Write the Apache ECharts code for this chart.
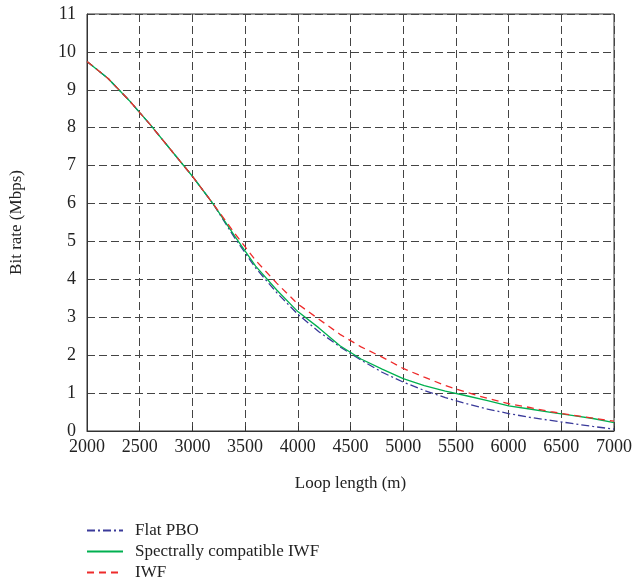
<!DOCTYPE html>
<html>
<head>
<meta charset="utf-8">
<script src="https://cdn.jsdelivr.net/npm/echarts@6/dist/echarts.min.js"></script>
<style>html,body{margin:0;padding:0;background:#fff}#c{width:635px;height:586px}</style>
</head>
<body>
<div id="c"></div>
<script>
var loopLength = [2000,2200,2400,2600,2800,3000,3200,3400,3600,3800,4000,4200,4400,4600,4800,5000,5200,5400,5600,5800,6000,6200,6400,6600,6800,7000];
var flatPBO = [9.75,9.30,8.72,8.08,7.40,6.72,5.98,5.10,4.30,3.65,3.08,2.62,2.22,1.87,1.55,1.29,1.07,0.88,0.72,0.58,0.46,0.36,0.28,0.20,0.12,0.05];
var scIWF   = [9.75,9.30,8.72,8.08,7.40,6.72,5.98,5.15,4.35,3.72,3.15,2.72,2.25,1.90,1.63,1.38,1.20,1.05,0.93,0.80,0.66,0.58,0.49,0.41,0.33,0.22];
var iwf     = [9.75,9.30,8.72,8.08,7.40,6.72,5.98,5.22,4.50,3.90,3.35,2.95,2.55,2.22,1.95,1.65,1.42,1.20,1.02,0.86,0.72,0.62,0.51,0.42,0.34,0.26];
var seriesNames = ['Flat PBO','Spectrally compatible IWF','IWF'];

function pairs(v){ return loopLength.map(function(x,i){ return [x, v[i]]; }); }
var font = 'Liberation Serif';
var legendTops = [522, 543, 564];
var legends = seriesNames.map(function(n, i){
  return {
    orient: 'vertical', left: 86, top: legendTops[i], padding: 0, itemWidth: 36, itemHeight: 14, itemGap: 0,
    itemStyle: {opacity: 0},
    textStyle: {fontFamily: font, fontSize: 17, color: '#222', padding: [0,0,0,7]},
    data: [n]
  };
});
var chart = echarts.init(document.getElementById('c'));
chart.setOption({
  animation: false,
  textStyle: {fontFamily: font, color: '#222'},
  grid: {left: 86, right: 21, top: 14, bottom: 155, show: true, borderColor: '#333', borderWidth: 1, backgroundColor: 'transparent'},
  xAxis: {
    type: 'value', min: 2000, max: 7000, interval: 500,
    name: 'Loop length (m)', nameLocation: 'middle', nameGap: 44,
    nameTextStyle: {fontFamily: font, fontSize: 17, color: '#222'},
    axisLine: {show: true, lineStyle: {color: '#333'}},
    axisTick: {show: true, inside: true, length: 5, lineStyle: {color: '#333'}},
    axisLabel: {fontFamily: font, fontSize: 18, color: '#222', margin: 7, formatter: function(v){ return String(v); }},
    splitLine: {show: true, lineStyle: {color: '#444', type: [8,4], width: 1}}
  },
  yAxis: {
    type: 'value', min: 0, max: 11, interval: 1,
    name: 'Bit rate (Mbps)', nameLocation: 'middle', nameGap: 62,
    nameTextStyle: {fontFamily: font, fontSize: 17, color: '#222'},
    axisLine: {show: true, lineStyle: {color: '#333'}},
    axisTick: {show: false},
    axisLabel: {fontFamily: font, fontSize: 18, color: '#222', margin: 11},
    splitLine: {show: true, lineStyle: {color: '#444', type: [8,4], width: 1}}
  },
  legend: legends,
  series: [
    {name: seriesNames[0], type: 'line', data: pairs(flatPBO), symbol: 'none', z: 3,
     lineStyle: {color: '#3a3a9a', width: 1.3, type: [8,3,2,3]}, itemStyle: {color: '#3a3a9a'}},
    {name: seriesNames[1], type: 'line', data: pairs(scIWF), symbol: 'none', z: 4,
     lineStyle: {color: '#00b050', width: 1.3, type: 'solid'}, itemStyle: {color: '#00b050'}},
    {name: seriesNames[2], type: 'line', data: pairs(iwf), symbol: 'none', z: 5,
     lineStyle: {color: '#ee2b2b', width: 1.3, type: [7,5]}, itemStyle: {color: '#ee2b2b'}}
  ]
});
</script>
</body>
</html>
